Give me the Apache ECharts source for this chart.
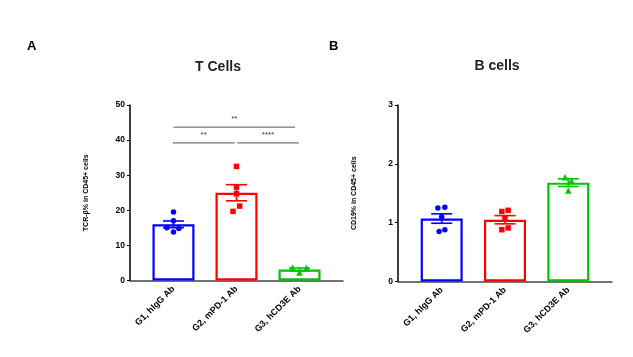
<!DOCTYPE html>
<html><head><meta charset="utf-8">
<script src="https://cdn.jsdelivr.net/npm/echarts@6/dist/echarts.min.js"></script>
<style>html,body{margin:0;padding:0;background:#fff}#c{width:633px;height:357px}</style>
</head><body><div id="c"></div>
<script>
// ---- data ----
const categories = ['G1, hIgG Ab', 'G2, mPD-1 Ab', 'G3, hCD3E Ab'];
const groupColors = ['#0000ff', '#ff0000', '#00c400'];
const groupSymbols = ['circle', 'rect', 'triangle'];

// Panel A: T cells, TCR-beta % in CD45+ cells
const tMeans = [16.0, 25.0, 3.15];
const tSem = [0.95, 2.3, 0.42];
const tPoints = [
  [19.5, 17.0, 15.0, 14.8, 13.8],
  [32.5, 26.6, 24.7, 21.2, 19.7],
  [3.6, 3.6, 2.3]
];
const tJitter = [
  [0, 0, -0.105, 0.085, 0],
  [0, 0, 0, 0.05, -0.055],
  [-0.11, 0.11, 0]
];
const tTicks = [0, 10, 20, 30, 40, 50];
// significance brackets: [fromGroup, toGroup, y, label]
const tBrackets = [
  [0, 1.93, 43.7, '**'],
  [-0.01, 0.97, 39.2, '**'],
  [1.01, 1.99, 39.2, '****']
];

// Panel B: B cells, CD19% in CD45+ cells
const bMeans = [1.07, 1.05, 1.68];
const bSem = [0.08, 0.07, 0.065];
const bPoints = [
  [1.25, 1.26, 1.10, 0.85, 0.88],
  [1.19, 1.21, 1.08, 0.88, 0.91],
  [1.77, 1.71, 1.545]
];
const bJitter = [
  [-0.06, 0.05, 0, -0.04, 0.05],
  [-0.05, 0.05, 0, -0.05, 0.05],
  [-0.05, 0.05, 0]
];
const bTicks = [0, 1, 2, 3];

// ---- chart ----
const FONT = '"Liberation Sans", Arial, sans-serif';
const chart = echarts.init(document.getElementById('c'));

function xAxisFor(gi) {
  return {
    type: 'value', gridIndex: gi, min: -0.69, max: 2.69,
    splitLine: {show: false},
    axisLine: {show: true, onZero: false, lineStyle: {color: '#444', width: 1.5}},
    axisTick: {show: false},
    axisLabel: {
      customValues: [0, 1, 2], rotate: 45, margin: 7,
      formatter: v => categories[Math.round(v)] || '',
      fontFamily: FONT, fontWeight: 'bold', fontSize: 9, color: '#000'
    }
  };
}
function yAxisFor(gi, ticks, name) {
  return {
    type: 'value', gridIndex: gi, min: ticks[0], max: ticks[ticks.length - 1],
    interval: ticks[1] - ticks[0],
    name: name, nameLocation: 'middle', nameGap: 40,
    nameTextStyle: {fontFamily: FONT, fontWeight: 'bold', fontSize: 7, color: '#000'},
    splitLine: {show: false},
    axisLine: {show: true, onZero: false, lineStyle: {color: '#000', width: 1.5}},
    axisTick: {show: true, length: 3, lineStyle: {color: '#000', width: 1}},
    axisLabel: {margin: 5, fontFamily: FONT, fontWeight: 'bold', fontSize: 8.5, color: '#000'}
  };
}

function barSeries(gi, means) {
  return {
    type: 'bar', xAxisIndex: gi, yAxisIndex: gi, barWidth: 42, z: 2,
    data: means.map((m, i) => ({
      value: [i, m],
      itemStyle: {color: 'rgba(255,255,255,0)', borderColor: groupColors[i], borderWidth: 2.2}
    }))
  };
}
function errSeries(gi, means, sem) {
  return {
    type: 'custom', xAxisIndex: gi, yAxisIndex: gi, z: 4,
    encode: {x: 0, y: 1},
    data: means.map((m, i) => [i, m, sem[i], i]),
    renderItem: (params, api) => {
      const x = api.value(0), m = api.value(1), s = api.value(2);
      const col = groupColors[api.value(3)];
      const top = api.coord([x, m + s]);
      const bot = api.coord([x, m - s]);
      const hw = 10.5;
      const st = {stroke: col, lineWidth: 1.6};
      return {type: 'group', children: [
        {type: 'line', shape: {x1: top[0], y1: top[1], x2: bot[0], y2: bot[1]}, style: st},
        {type: 'line', shape: {x1: top[0] - hw, y1: top[1], x2: top[0] + hw, y2: top[1]}, style: st},
        {type: 'line', shape: {x1: bot[0] - hw, y1: bot[1], x2: bot[0] + hw, y2: bot[1]}, style: st}
      ]};
    }
  };
}
function pointSeries(gi, points, jitter) {
  return points.map((arr, g) => ({
    type: 'scatter', xAxisIndex: gi, yAxisIndex: gi, z: 5,
    symbol: groupSymbols[g], symbolSize: g === 2 ? 6.5 : 5.5,
    itemStyle: {color: groupColors[g], opacity: 1},
    data: arr.map((v, k) => [g + jitter[g][k], v])
  }));
}
const bracketSeries = {
  type: 'custom', xAxisIndex: 0, yAxisIndex: 0, z: 3,
  encode: {x: 0, y: 2},
  data: tBrackets,
  renderItem: (params, api) => {
    const a = api.coord([api.value(0), api.value(2)]);
    const b = api.coord([api.value(1), api.value(2)]);
    const lbl = tBrackets[params.dataIndex][3];
    return {type: 'group', children: [
      {type: 'line', shape: {x1: a[0], y1: a[1], x2: b[0], y2: b[1]}, style: {stroke: '#555', lineWidth: 1}},
      {type: 'text', x: (a[0] + b[0]) / 2, y: a[1] - 8,
       style: {text: lbl, fill: '#333', font: '8px ' + FONT, align: 'center', verticalAlign: 'middle'}}
    ]};
  }
};

chart.setOption({
  backgroundColor: '#fff',
  animation: false,
  title: [
    {text: 'A', left: 22, top: 35, textStyle: {fontFamily: FONT, fontWeight: 'bold', fontSize: 13, color: '#000'}},
    {text: 'B', left: 324, top: 35, textStyle: {fontFamily: FONT, fontWeight: 'bold', fontSize: 13, color: '#000'}},
    {text: 'T Cells', left: 213, top: 55, textAlign: 'center', textStyle: {fontFamily: FONT, fontWeight: 'bold', fontSize: 14, color: '#222'}},
    {text: 'B cells', left: 492, top: 54, textAlign: 'center', textStyle: {fontFamily: FONT, fontWeight: 'bold', fontSize: 14, color: '#222'}}
  ],
  grid: [
    {left: 130, top: 105, width: 213, height: 175.5},
    {left: 398, top: 105, width: 214, height: 176.5}
  ],
  xAxis: [xAxisFor(0), xAxisFor(1)],
  yAxis: [yAxisFor(0, tTicks, 'TCR-β% in CD45+ cells'), yAxisFor(1, bTicks, 'CD19% in CD45+ cells')],
  series: [
    barSeries(0, tMeans), errSeries(0, tMeans, tSem), ...pointSeries(0, tPoints, tJitter), bracketSeries,
    barSeries(1, bMeans), errSeries(1, bMeans, bSem), ...pointSeries(1, bPoints, bJitter)
  ]
});
</script></body></html>
